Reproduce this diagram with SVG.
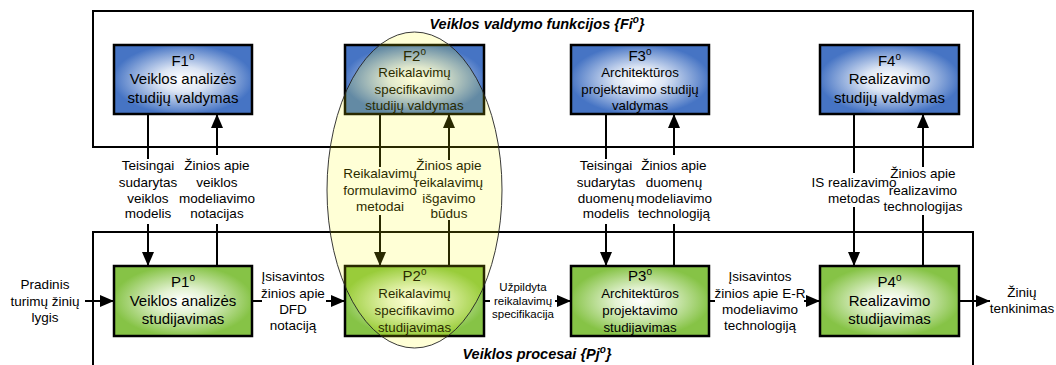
<svg xmlns="http://www.w3.org/2000/svg" width="1056" height="365" viewBox="0 0 1056 365">
<defs>
<radialGradient id="gb" cx="50%" cy="50%" r="60%">
<stop offset="0" stop-color="#FFFFFF"/>
<stop offset="0.3" stop-color="#DCE5F4"/>
<stop offset="0.85" stop-color="#4674C4"/>
<stop offset="1" stop-color="#4674C4"/>
</radialGradient>
<radialGradient id="gg" cx="50%" cy="50%" r="60%">
<stop offset="0" stop-color="#FFFFFF"/>
<stop offset="0.3" stop-color="#E3F2D2"/>
<stop offset="0.85" stop-color="#86C346"/>
<stop offset="1" stop-color="#86C346"/>
</radialGradient>
<marker id="ah" markerUnits="userSpaceOnUse" viewBox="0 0 14 12" markerWidth="14" markerHeight="12" refX="14" refY="6" orient="auto">
<path d="M0,0 L14,6 L0,12 Z" fill="#000"/>
</marker>
</defs>
<style>
.frame{fill:none;stroke:#000;stroke-width:2}
.fb{fill:url(#gb);stroke:#000;stroke-width:2.5}
.pb{fill:url(#gg);stroke:#000;stroke-width:2.5}
.c{fill:none;stroke:#000;stroke-width:2}
.a{marker-end:url(#ah)}
text{font-family:"Liberation Sans",Arial,sans-serif;fill:#000;text-anchor:middle}
.big{font-size:15px}
.mid{font-size:13.3px}
.lbl{font-size:13.5px}
.sm{font-size:11.5px}
.title{font-size:14.5px;font-weight:bold;font-style:italic}
</style>
<rect class="frame" x="93" y="11" width="880" height="136"/>
<path class="frame" d="M93,366 V232 H973 V366"/>
<text class="title" x="537" y="29">Veiklos valdymo funkcijos {Fi<tspan font-size="10" dy="-6">o</tspan><tspan dy="6">}</tspan></text>
<text class="title" x="537" y="359">Veiklos procesai {Pj<tspan font-size="10" dy="-6">o</tspan><tspan dy="6">}</tspan></text>

<g id="F1"><rect class="fb" x="114" y="45" width="138" height="69"/>
<text class="big" x="183" y="66">F1<tspan font-size="10" dy="-6">o</tspan></text>
<text class="big" x="183" y="84">Veiklos analizės</text>
<text class="big" x="183" y="103">studijų valdymas</text></g>
<g id="F2"><rect class="fb" x="345" y="45" width="139" height="69"/>
<text class="big" x="414.5" y="61">F2<tspan font-size="10" dy="-6">o</tspan></text>
<text class="mid" x="414.5" y="77">Reikalavimų</text>
<text class="mid" x="414.5" y="94">specifikavimo</text>
<text class="mid" x="414.5" y="110">studijų valdymas</text></g>
<g id="F3"><rect class="fb" x="571" y="45" width="138" height="69"/>
<text class="big" x="640" y="61">F3<tspan font-size="10" dy="-6">o</tspan></text>
<text class="mid" x="640" y="77">Architektūros</text>
<text class="mid" x="640" y="94">projektavimo studijų</text>
<text class="mid" x="640" y="110">valdymas</text></g>
<g id="F4"><rect class="fb" x="820" y="45" width="139" height="69"/>
<text class="big" x="889.5" y="66">F4<tspan font-size="10" dy="-6">o</tspan></text>
<text class="big" x="889.5" y="84">Realizavimo</text>
<text class="big" x="889.5" y="103">studijų valdymas</text></g>

<g id="P1"><rect class="pb" x="114" y="266" width="138" height="70"/>
<text class="big" x="183" y="287">P1<tspan font-size="10" dy="-6">o</tspan></text>
<text class="big" x="183" y="306">Veiklos analizės</text>
<text class="big" x="183" y="324">studijavimas</text></g>
<g id="P2"><rect class="pb" x="345" y="266" width="139" height="70"/>
<text class="big" x="414.5" y="281">P2<tspan font-size="10" dy="-6">o</tspan></text>
<text class="mid" x="414.5" y="298">Reikalavimų</text>
<text class="mid" x="414.5" y="315">specifikavimo</text>
<text class="mid" x="414.5" y="332">studijavimas</text></g>
<g id="P3"><rect class="pb" x="571" y="266" width="138" height="70"/>
<text class="big" x="640" y="281">P3<tspan font-size="10" dy="-6">o</tspan></text>
<text class="mid" x="640" y="298">Architektūros</text>
<text class="mid" x="640" y="315">projektavimo</text>
<text class="mid" x="640" y="332">studijavimas</text></g>
<g id="P4"><rect class="pb" x="820" y="266" width="139" height="70"/>
<text class="big" x="889.5" y="287">P4<tspan font-size="10" dy="-6">o</tspan></text>
<text class="big" x="889.5" y="306">Realizavimo</text>
<text class="big" x="889.5" y="324">studijavimas</text></g>

<g id="connectors">
<path class="c" d="M148,114 V159"/><path class="c a" d="M148,224 V266"/>
<path class="c" d="M217,266 V224"/><path class="c a" d="M217,155 V114"/>
<path class="c" d="M380,114 V167"/><path class="c a" d="M380,215 V266"/>
<path class="c" d="M449,266 V220"/><path class="c a" d="M449,160 V114"/>
<path class="c" d="M606,114 V159"/><path class="c a" d="M606,224 V266"/>
<path class="c" d="M674,266 V224"/><path class="c a" d="M674,155 V114"/>
<path class="c" d="M854,114 V173"/><path class="c a" d="M854,207 V266"/>
<path class="c" d="M923,266 V215"/><path class="c a" d="M923,167 V114"/>
<path class="c a" d="M85,301 H114"/>
<path class="c" d="M252,301 H262"/><path class="c a" d="M326,301 H345"/>
<path class="c" d="M484,301 H490"/><path class="c a" d="M555,301 H571"/>
<path class="c" d="M709,301 H715"/><path class="c a" d="M804,301 H820"/>
<path class="c a" d="M959,301 H990"/>
<g class="lbl">
<text x="148" y="170">Teisingai</text><text x="148" y="187">sudarytas</text><text x="148" y="203">veiklos</text><text x="148" y="218">modelis</text>
<text x="217" y="170">Žinios apie</text><text x="217" y="187">veiklos</text><text x="217" y="203">modeliavimo</text><text x="217" y="218">notacijas</text>
<text x="380" y="178">Reikalavimų</text><text x="380" y="195">formulavimo</text><text x="380" y="211">metodai</text>
<text x="449" y="170">Žinios apie</text><text x="449" y="187">reikalavimų</text><text x="449" y="203">išgavimo</text><text x="449" y="218">būdus</text>
<text x="606" y="170">Teisingai</text><text x="606" y="187">sudarytas</text><text x="606" y="203">duomenų</text><text x="606" y="218">modelis</text>
<text x="674" y="170">Žinios apie</text><text x="674" y="187">duomenų</text><text x="674" y="203">modeliavimo</text><text x="674" y="218">technologiją</text>
<text x="854" y="187">IS realizavimo</text><text x="854" y="203">metodas</text>
<text x="923" y="178">Žinios apie</text><text x="923" y="195">realizavimo</text><text x="923" y="211">technologijas</text>
<text x="45" y="289">Pradinis</text><text x="45" y="306">turimų žinių</text><text x="45" y="322">lygis</text>
<text x="293" y="281">Įsisavintos</text><text x="293" y="298">žinios apie</text><text x="293" y="314">DFD</text><text x="293" y="330">notaciją</text>
<text x="760" y="281">Įsisavintos</text><text x="760" y="298">žinios apie E-R</text><text x="760" y="314">modeliavimo</text><text x="760" y="330">technologiją</text>
<text x="1022" y="297">Žinių</text><text x="1022" y="313">tenkinimas</text>
</g>
<g class="sm">
<text x="523" y="291">Užpildyta</text><text x="523" y="305">reikalavimų</text><text x="523" y="318">specifikacija</text>
</g>
</g>
<ellipse id="highlight" cx="414.5" cy="190" rx="87.5" ry="158" fill="#FFFF00" fill-opacity="0.16" stroke="#222" stroke-width="0.9"/>
</svg>
